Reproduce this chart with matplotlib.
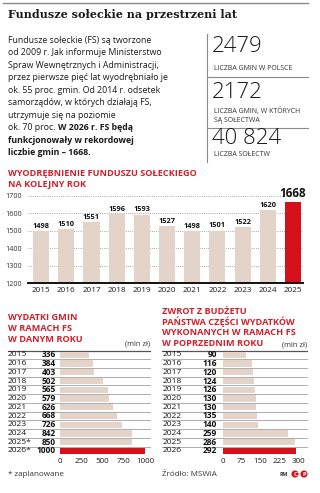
import matplotlib
matplotlib.use('Agg')
import matplotlib.pyplot as plt
from matplotlib.lines import Line2D
from matplotlib.transforms import blended_transform_factory as btf

# ---------------- data ----------------
bar_years = ['2015', '2016', '2017', '2018', '2019', '2020', '2021', '2022', '2023', '2024', '2025']
bar_counts = [1498, 1510, 1551, 1596, 1593, 1527, 1498, 1501, 1522, 1620, 1668]
bar_yticks = [1200, 1300, 1400, 1500, 1600, 1700]

spend_years = ['2015', '2016', '2017', '2018', '2019', '2020', '2021', '2022', '2023', '2024', '2025*', '2026*']
spend_values = [336, 384, 403, 502, 565, 579, 626, 668, 726, 842, 850, 1000]
spend_ticks = [0, 250, 500, 750, 1000]

refund_years = ['2015', '2016', '2017', '2018', '2019', '2020', '2021', '2022', '2023', '2024', '2025', '2026']
refund_values = [90, 116, 120, 124, 126, 130, 130, 135, 140, 259, 286, 292]
refund_ticks = [0, 75, 150, 225, 300]

stat_values = ['2479', '2172', '40 824']
stat_labels = [['LICZBA GMIN W POLSCE'], ['LICZBA GMIN, W KTÓRYCH', 'SĄ SOŁECTWA'], ['LICZBA SOŁECTW']]

title = 'Fundusze sołeckie na przestrzeni lat'
body_lines = [
    ('Fundusze sołeckie (FS) są tworzone', ''),
    ('od 2009 r. Jak informuje Ministerstwo', ''),
    ('Spraw Wewnętrznych i Administracji,', ''),
    ('przez pierwsze pięć lat wyodrębniało je', ''),
    ('ok. 55 proc. gmin. Od 2014 r. odsetek', ''),
    ('samorządów, w których działają FS,', ''),
    ('utrzymuje się na poziomie', ''),
    ('ok. 70 proc. ', 'W 2026 r. FS będą'),
    ('', 'funkcjonowały w rekordowej'),
    ('', 'liczbie gmin – 1668.'),
]

main_title = ['WYODRĘBNIENIE FUNDUSZU SOŁECKIEGO', 'NA KOLEJNY ROK']
spend_title = ['WYDATKI GMIN', 'W RAMACH FS', 'W DANYM ROKU']
refund_title = ['ZWROT Z BUDŻETU', 'PAŃSTWA CZĘŚCI WYDATKÓW', 'WYKONANYCH W RAMACH FS', 'W POPRZEDNIM ROKU']

# ---------------- style ----------------
BEIGE = '#e4d3c9'
RED = '#d6111c'
TRED = '#d0202a'
FONT = 'Open Sans'
W, H = 320, 493

plt.rcParams['font.family'] = [FONT, 'DejaVu Sans']
fig = plt.figure(figsize=(W / 100, H / 100), dpi=100)
fig.patch.set_facecolor('white')


def fx(x):
    return x / W


def fy(y):
    return 1 - y / H


def add_ax(x0, y0, x1, y1):
    return fig.add_axes([fx(x0), fy(y1), (x1 - x0) / W, (y1 - y0) / H])


def hline(x0, x1, y, color='#8a8a8a', lw=0.8):
    fig.add_artist(Line2D([fx(x0), fx(x1)], [fy(y), fy(y)], color=color, lw=lw,
                          transform=fig.transFigure))


def vline(x, y0, y1, color='#8a8a8a', lw=0.8):
    fig.add_artist(Line2D([fx(x), fx(x)], [fy(y0), fy(y1)], color=color, lw=lw,
                          transform=fig.transFigure))


def lines_text(x, y0, step, lines, **kw):
    for k, s in enumerate(lines):
        fig.text(fx(x), fy(y0 + k * step), s, va='center', ha='left', **kw)


# top rule and title
hline(3, 308, 3, lw=1.0)
fig.text(fx(8), fy(15), title, family='DejaVu Serif', weight='bold', fontsize=8.0,
         va='center', ha='left', color='#1a1a1a')

# body text
renderer = fig.canvas.get_renderer()
y = 40.5
for reg, bold in body_lines:
    x = 8
    if reg:
        t = fig.text(fx(x), fy(y), reg, fontsize=6.3, va='center', ha='left', color='#1a1a1a')
        x += t.get_window_extent(renderer).width * 100 / fig.dpi
    if bold:
        fig.text(fx(x), fy(y), bold, fontsize=6.3, weight='bold', va='center', ha='left',
                 color='#1a1a1a')
    y += 12.45

# stats panel
vline(207, 34, 162)
hline(207, 308, 77)
hline(207, 308, 128)
stat_y = [47, 93, 138]
lab_y = [69, 111.5, 154]
for v, lab, sy, ly in zip(stat_values, stat_labels, stat_y, lab_y):
    fig.text(fx(212), fy(sy), v, fontsize=16, weight='light', va='center', ha='left',
             color='#1a1a1a')
    lines_text(214, ly, 8.5, lab, fontsize=5.0, color='#333333')

# ---------------- main bar chart ----------------
lines_text(8, 173.5, 10.8, main_title, fontsize=6.6, weight='bold', color=TRED)

ax = add_ax(28, 196, 303, 283)
xs = list(range(len(bar_years)))
colors = [BEIGE] * (len(bar_years) - 1) + [RED]
ax.bar(xs, [c - 1200 for c in bar_counts], bottom=1200, width=0.64, color=colors, zorder=2)
ax.set_ylim(1200, 1700)
ax.set_xlim(-0.52, 10.4)
ax.set_yticks(bar_yticks)
ax.set_yticklabels([str(v) for v in bar_yticks], fontsize=5.2, color='#333333')
ax.set_xticks(xs)
ax.set_xticklabels(bar_years, fontsize=5.9, color='#1a1a1a')
ax.tick_params(axis='y', length=0, pad=4)
ax.tick_params(axis='x', length=0, pad=3)
ax.grid(axis='y', linestyle=(0, (1, 1.6)), color='#8a8a8a', lw=0.6, zorder=0)
for s in ['top', 'right', 'left']:
    ax.spines[s].set_visible(False)
ax.spines['bottom'].set_color('#111111')
ax.spines['bottom'].set_linewidth(1.4)
ax.spines['bottom'].set_zorder(3)
for i, v in enumerate(bar_counts):
    last = i == len(bar_counts) - 1
    ax.text(i, v + 8, str(v), ha='center', va='bottom', fontsize=8.5 if last else 5.3,
            weight='bold', color='#111111', clip_on=False)


# ---------------- tables ----------------
def table(ax_box, years, values, ticks, x_year, x_val, x_line0, x_line1):
    a = add_ax(*ax_box)
    n = len(values)
    cols = [BEIGE] * (n - 1) + [RED]
    a.barh(range(n), values, height=0.72, color=cols, zorder=2)
    a.set_ylim(n - 0.5, -0.5)
    a.set_xlim(0, ticks[-1])
    a.set_yticks([])
    a.set_xticks(ticks)
    a.set_xticklabels([str(t) for t in ticks], fontsize=5.8, color='#1a1a1a')
    a.tick_params(axis='x', length=0, pad=2)
    for s in a.spines.values():
        s.set_visible(False)
    tr = btf(fig.transFigure, a.transData)
    for i, (yr, v) in enumerate(zip(years, values)):
        a.text(fx(x_year), i, yr, transform=tr, fontsize=6.1, va='center', ha='left',
               color='#1a1a1a', clip_on=False)
        a.text(fx(x_val), i, str(v), transform=tr, fontsize=6.0, weight='bold', va='center',
               ha='right', color='#111111', clip_on=False)
    for k in range(n):
        yk = k - 0.5
        a.add_line(Line2D([fx(x_line0), fx(x_line1)], [yk, yk], transform=tr,
                          color='#555555' if k == 0 else '#a0a0a0',
                          lw=0.9 if k == 0 else 0.6, clip_on=False, zorder=1))
    return a


table((60, 350.5, 145, 455.3), spend_years, spend_values, spend_ticks, 8, 56, 8, 150)
table((223, 350.5, 298, 455.3), refund_years, refund_values, refund_ticks, 163, 217, 162, 307)

lines_text(8, 318, 10.9, spend_title, fontsize=6.6, weight='bold', color=TRED)
fig.text(fx(150), fy(344), '(mln zł)', fontsize=5.4, color='#333333', va='center', ha='right')
lines_text(162, 311, 10.9, refund_title, fontsize=6.6, weight='bold', color=TRED)
fig.text(fx(307), fy(344.5), '(mln zł)', fontsize=5.4, color='#333333', va='center', ha='right')

# footer
fig.text(fx(8), fy(474), '* zaplanowane', fontsize=5.8, color='#333333', va='center', ha='left')
fig.text(fx(162), fy(474), 'Źródło: MSWiA', fontsize=5.8, color='#333333', va='center', ha='left')
fig.text(fx(280), fy(474), 'RM', fontsize=3.8, weight='bold', color='#333333', va='center', ha='left')
for cx, ch in [(295, 'C'), (304, 'P')]:
    fig.text(fx(cx), fy(474), ch, fontsize=4.2, weight='bold', color='white', va='center',
             ha='center', bbox=dict(boxstyle='circle,pad=0.18', fc=RED, ec='none'))

fig.savefig('out.png', dpi=100, facecolor='white')
